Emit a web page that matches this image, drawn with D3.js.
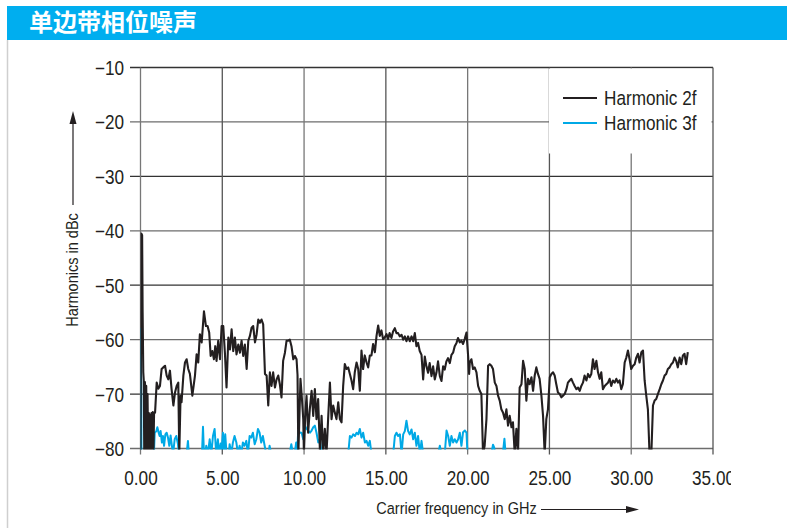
<!DOCTYPE html>
<html><head><meta charset="utf-8">
<script src="https://cdn.jsdelivr.net/npm/d3@7"></script>
<style>
html,body{margin:0;padding:0;background:#fff;}
svg{display:block;}
.tk{font-family:"Liberation Sans",Arial,sans-serif;fill:#231f20;}
</style></head>
<body>
<svg id="c" width="787" height="528"></svg>
<script>
const title = "单边带相位噪声";
const xLabel = "Carrier frequency in GHz";
const yLabel = "Harmonics in dBc";
const seriesNames = ["Harmonic 2f", "Harmonic 3f"];
const seriesColors = ["#231f20", "#00a9e6"];
const freqTicks = [0, 5, 10, 15, 20, 25, 30, 35];
const freqTickLabels = ["0.00","5.00","10.00","15.00","20.00","25.00","30.00","35.00"];
const dbTicks = [-10, -20, -30, -40, -50, -60, -70, -80];
const dbTickLabels = ["\u221210","\u221220","\u221230","\u221240","\u221250","\u221260","\u221270","\u221280"];

const harmonic2f = [
[0.00,-81],[0.03,-60],[0.05,-40.5],[0.10,-40.8],[0.13,-55],[0.17,-66],[0.20,-67.5],
[0.23,-81],[0.27,-67.8],[0.31,-81],[0.35,-68.5],[0.39,-81],[0.43,-70],[0.47,-81],[0.51,-73.5],
[0.55,-81],[0.59,-73.8],[0.63,-81],[0.67,-73.5],[0.71,-81],[0.75,-73.3],[0.79,-81],[0.83,-73.4],
[0.89,-73.4],[0.99,-67.9],[1.09,-69],[1.19,-68.5],[1.29,-65.4],[1.39,-65.1],[1.50,-64.8],[1.60,-66.6],
[1.70,-67.3],[1.80,-65.7],[1.90,-69.1],[2.01,-72.1],[2.11,-69.7],[2.21,-68.5],[2.31,-67.9],[2.37,-81],
[2.45,-70.3],[2.51,-71.5],[2.62,-66.6],[2.72,-64.2],[2.82,-63.6],[2.92,-65.4],[3.02,-66.3],[3.17,-70.3],
[3.33,-66.6],[3.43,-62.7],[3.53,-64.2],[3.63,-59.0],[3.74,-60.5],[3.88,-54.8],[4.00,-57.5],[4.10,-57.5],
[4.20,-58.7],[4.29,-63.0],[4.39,-62.1],[4.49,-63.6],[4.57,-61.2],[4.65,-63.9],[4.75,-60.2],[4.86,-63.6],
[4.96,-57.5],[5.06,-57.5],[5.16,-62.4],[5.26,-68.8],[5.37,-59.6],[5.47,-61.8],[5.57,-58.1],[5.67,-62.1],
[5.77,-59.6],[5.87,-62.7],[5.98,-60.9],[6.08,-62.4],[6.18,-60.2],[6.28,-63.0],[6.38,-60.9],[6.49,-65.4],
[6.59,-60.2],[6.69,-59.3],[6.79,-57.8],[6.89,-57.5],[7.00,-60.5],[7.10,-59.0],[7.20,-56.3],[7.30,-56.9],
[7.40,-56.3],[7.50,-57.2],[7.61,-66.3],[7.71,-66.6],[7.81,-72.1],[7.91,-66.0],[8.01,-68.5],[8.11,-66.0],
[8.22,-68.8],[8.32,-67.3],[8.42,-66.6],[8.52,-68.2],[8.62,-70.6],[8.72,-63.9],[8.83,-62.4],[8.93,-60.2],
[9.03,-60.2],[9.13,-60.0],[9.23,-61.2],[9.34,-63.6],[9.44,-63.0],[9.54,-63.6],[9.60,-66.5],[9.65,-81],
[9.70,-75.8],[9.78,-67.2],[9.87,-70.9],[9.95,-74.6],[9.99,-81],[10.07,-74.0],[10.15,-70.3],[10.25,-77.1],
[10.35,-72.8],[10.46,-69.4],[10.56,-74.0],[10.66,-69.1],[10.76,-74.6],[10.86,-70.9],[10.97,-80.5],[11.07,-74.0],
[11.17,-81],[11.27,-76.4],[11.37,-81],[11.47,-74.6],[11.58,-67.9],[11.68,-74.6],[11.78,-72.1],[11.88,-73.4],
[11.98,-74.6],[12.09,-71.5],[12.19,-74.6],[12.29,-75.2],[12.39,-68.5],[12.49,-64.5],[12.60,-65.4],[12.70,-65.1],
[12.80,-66.3],[12.90,-67.5],[13.00,-69.1],[13.10,-66.0],[13.21,-64.2],[13.31,-65.4],[13.41,-69.4],[13.51,-62.0],
[13.61,-65.4],[13.71,-62.9],[13.82,-64.2],[13.92,-65.1],[14.02,-62.9],[14.12,-62.9],[14.22,-60.8],[14.33,-62.3],
[14.43,-59.3],[14.53,-57.4],[14.63,-59.3],[14.73,-58.3],[14.83,-59.9],[14.93,-59.6],[15.04,-59.0],[15.14,-59.9],
[15.23,-58.8],[15.34,-59.7],[15.44,-58.5],[15.55,-57.9],[15.65,-58.8],[15.75,-58.8],[15.85,-59.4],[15.96,-59.1],
[16.06,-60.0],[16.16,-59.4],[16.26,-60.3],[16.36,-59.4],[16.46,-60.3],[16.57,-59.4],[16.67,-60.3],[16.77,-58.8],
[16.87,-61.2],[16.97,-60.6],[17.07,-62.1],[17.18,-62.8],[17.28,-67.3],[17.38,-63.1],[17.48,-64.9],[17.58,-66.1],
[17.68,-64.3],[17.79,-66.7],[17.89,-64.9],[17.99,-67.3],[18.09,-66.1],[18.19,-64.0],[18.30,-66.7],[18.40,-67.6],
[18.50,-64.9],[18.60,-65.5],[18.70,-64.0],[18.80,-63.4],[18.91,-64.3],[19.01,-62.8],[19.11,-62.4],[19.21,-61.2],
[19.32,-60.6],[19.41,-59.7],[19.52,-60.5],[19.62,-60.2],[19.72,-60.8],[19.82,-59.9],[19.93,-58.7],[20.03,-63.0],
[20.09,-66.3],[20.13,-64.2],[20.23,-63.6],[20.33,-65.4],[20.43,-65.1],[20.54,-66.0],[20.64,-68.5],[20.74,-69.4],
[20.84,-70.0],[20.94,-81],[21.04,-79.5],[21.15,-74.6],[21.25,-64.8],[21.35,-64.5],[21.45,-64.8],[21.55,-65.4],
[21.66,-67.9],[21.76,-68.5],[21.86,-70.3],[21.96,-71.2],[22.06,-72.8],[22.16,-73.4],[22.27,-74.6],[22.37,-72.8],
[22.47,-75.8],[22.57,-74.0],[22.68,-76.1],[22.77,-75.2],[22.88,-81],[22.98,-76.4],[23.08,-81],[23.18,-68.8],
[23.29,-68.2],[23.39,-63.9],[23.49,-65.4],[23.59,-71.2],[23.69,-67.2],[23.79,-68.2],[23.90,-66.9],[24.00,-69.4],
[24.10,-66.6],[24.20,-65.1],[24.30,-66.3],[24.40,-67.2],[24.51,-70.3],[24.61,-74.0],[24.71,-81],[24.81,-74.6],
[24.91,-72.8],[25.02,-66.9],[25.12,-66.3],[25.22,-66.0],[25.32,-66.6],[25.42,-68.2],[25.52,-69.7],[25.63,-70.0],
[25.73,-70.6],[25.83,-70.3],[25.93,-70.0],[26.04,-69.1],[26.13,-67.9],[26.24,-67.5],[26.34,-67.2],[26.44,-67.9],
[26.54,-68.5],[26.65,-69.1],[26.75,-68.8],[26.85,-69.4],[26.95,-68.5],[27.05,-67.9],[27.15,-66.6],[27.26,-67.5],
[27.36,-66.3],[27.46,-66.9],[27.56,-66.3],[27.66,-63.6],[27.76,-65.4],[27.87,-63.9],[27.97,-66.0],[28.07,-67.2],
[28.17,-66.0],[28.27,-69.1],[28.38,-68.5],[28.48,-68.2],[28.58,-67.9],[28.68,-67.2],[28.78,-68.5],[28.88,-67.5],
[28.99,-67.9],[29.09,-67.2],[29.19,-67.9],[29.29,-67.5],[29.39,-69.1],[29.49,-68.2],[29.60,-64.2],[29.70,-63.3],
[29.80,-62.0],[29.90,-63.6],[30.00,-65.4],[30.11,-64.8],[30.21,-64.5],[30.31,-63.3],[30.41,-62.6],[30.51,-64.2],
[30.62,-62.3],[30.72,-62.0],[30.82,-67.5],[30.92,-70.3],[31.02,-72.8],[31.12,-81],[31.23,-81],[31.33,-72.1],
[31.43,-71.2],[31.53,-70.9],[31.63,-70.0],[31.74,-69.1],[31.84,-68.2],[31.94,-67.5],[32.04,-66.6],[32.14,-66.3],
[32.24,-65.4],[32.35,-65.1],[32.45,-64.5],[32.55,-64.2],[32.65,-63.3],[32.75,-63.9],[32.85,-65.1],[32.96,-63.3],
[33.06,-64.5],[33.16,-62.9],[33.26,-62.6],[33.36,-64.5],[33.46,-62.3]
];

const harmonic3f = [
[0.00,-81],[0.03,-58],[0.06,-81],[0.82,-81],[0.87,-77.1],[0.97,-76.8],[1.03,-76.1],[1.11,-77.1],[1.17,-77.7],
[1.23,-76.8],[1.31,-78.9],[1.37,-77.7],[1.44,-79.5],[1.52,-77.4],[1.60,-77.1],[1.68,-78.0],[1.76,-79.5],
[1.84,-77.6],[1.92,-79.5],[1.99,-81],[2.09,-78.3],[2.19,-77.7],[2.29,-79.2],[2.35,-81],[2.82,-81],[2.90,-78.6],
[2.96,-81],[3.76,-81],[3.82,-76.0],[3.88,-81],[3.96,-81],[4.02,-79.5],[4.12,-81],[4.23,-78.3],[4.33,-81],
[4.43,-77.7],[4.53,-76.4],[4.63,-81],[4.73,-78.3],[4.80,-81],[4.90,-79.1],[4.94,-81],[5.04,-77.1],[5.10,-81],
[5.18,-77.4],[5.26,-81],[5.40,-81],[5.45,-79.2],[5.55,-81],[5.65,-78.9],[5.75,-77.7],[5.86,-78.9],[5.96,-81],
[6.06,-79.5],[6.16,-81],[6.26,-78.9],[6.36,-79.5],[6.47,-78.6],[6.57,-81],[6.67,-77.7],[6.77,-78.0],[6.87,-77.1],
[6.98,-79.2],[7.08,-78.3],[7.18,-76.4],[7.28,-77.1],[7.38,-78.9],[7.48,-77.7],[7.59,-79.5],[7.69,-81],
[7.84,-81],[7.89,-79.5],[7.99,-81],[9.11,-81],[9.22,-79.2],[9.32,-81],[9.42,-81],[9.52,-78.9],[9.58,-81],
[9.64,-76.7],[9.75,-77.1],[9.85,-77.1],[9.95,-78.3],[10.05,-75.8],[10.15,-76.4],[10.25,-76.7],[10.36,-77.1],
[10.46,-76.7],[10.56,-76.1],[10.66,-75.8],[10.76,-77.1],[10.87,-78.9],[10.97,-78.3],[11.07,-81],
[12.70,-81],[12.80,-77.7],[12.90,-78.0],[13.00,-77.4],[13.11,-77.7],[13.21,-77.1],[13.31,-77.4],[13.41,-76.4],
[13.51,-78.0],[13.61,-77.1],[13.72,-78.9],[13.82,-78.6],[13.92,-79.5],[14.02,-78.6],[14.12,-81],
[15.45,-81],[15.55,-77.7],[15.65,-77.1],[15.75,-77.7],[15.86,-77.4],[15.96,-81],[16.06,-77.4],[16.16,-76.8],
[16.26,-74.9],[16.36,-76.8],[16.46,-77.4],[16.57,-76.5],[16.67,-78.3],[16.77,-77.1],[16.87,-79.5],[16.97,-77.7],
[17.08,-81],[17.18,-78.6],[17.28,-81],[18.20,-81],[18.30,-79.5],[18.40,-81],[18.60,-81],[18.71,-76.7],
[18.81,-77.7],[18.91,-79.5],[19.01,-77.7],[19.11,-78.9],[19.21,-78.3],[19.32,-78.9],[19.42,-78.3],[19.52,-77.1],
[19.62,-79.5],[19.72,-77.0],[19.83,-76.7],[19.93,-77.1],[19.99,-81],[21.45,-81],[21.55,-79.3],[21.62,-79.8],
[21.68,-81],[22.15,-81],[22.25,-78.2],[22.32,-81],[22.60,-81]
];

const SX = 0.88; // condensed look
const svg = d3.select("#c");
const x = d3.scaleLinear().domain([0, 35]).range([140.5, 713]);
const y = d3.scaleLinear().domain([-80, -10]).range([448.5, 67.5]);

// title bar
svg.append("rect").attr("x", 7).attr("y", 6).attr("width", 780).attr("height", 34).attr("fill", "#00aeef");
svg.append("text").attr("x", 29).attr("y", 30.5).text(title)
  .attr("fill", "#fff").attr("font-family", "'Noto Sans CJK SC', sans-serif")
  .attr("font-weight", "bold").attr("font-size", 24);
svg.append("line").attr("x1", 7.5).attr("x2", 7.5).attr("y1", 40).attr("y2", 528)
  .attr("stroke", "#cfcfcf").attr("stroke-width", 1.5);

// grid
const grid = svg.append("g");
grid.selectAll("line.h").data(dbTicks).join("line")
  .attr("x1", 130).attr("x2", 713).attr("y1", d => y(d)).attr("y2", d => y(d))
  .attr("stroke", (d, i) => i % 2 ? "#6d6d6d" : "#333").attr("stroke-width", 1.3);
grid.selectAll("line.v").data(freqTicks).join("line")
  .attr("x1", d => x(d)).attr("x2", d => x(d)).attr("y1", y(-10)).attr("y2", y(-80) + 6)
  .attr("stroke", (d, i) => i % 2 ? "#555" : "#777").attr("stroke-width", 1.3);

// legend box (covers grid)
svg.append("rect").attr("x", 549).attr("y", y(-10) + 1).attr("width", 162.5).attr("height", 85).attr("fill", "#fff");

// y axis tick labels
const yAxis = d3.axisLeft(y).tickValues(dbTicks).tickFormat((d, i) => dbTickLabels[i]).tickSize(0);
const ga = svg.append("g").attr("transform", `translate(${x(0)},0)`).call(yAxis);
ga.select(".domain").remove();
ga.selectAll("text").attr("class", "tk").attr("font-size", 19.5).attr("font-family", null).attr("fill", null)
  .attr("x", 0).attr("dy", "0.36em").attr("transform", `translate(-16.5,0) scale(${SX},1)`);

// x axis tick labels (clipped at right like the original)
const xAxis = d3.axisBottom(x).tickValues(freqTicks).tickFormat((d, i) => freqTickLabels[i]).tickSize(0);
const gx = svg.append("g").attr("transform", `translate(0,${y(-80)})`);
gx.append("clipPath").attr("id", "xtclip").append("rect").attr("x", 0).attr("y", -10).attr("width", 731).attr("height", 70);
const gxi = gx.append("g").attr("clip-path", "url(#xtclip)").call(xAxis);
gxi.select(".domain").remove();
gxi.selectAll("text").attr("class", "tk").attr("font-size", 19.5).attr("font-family", null).attr("fill", null)
  .attr("y", 0).attr("dy", 0).attr("transform", `translate(0,36.5) scale(${SX},1)`);

// data lines
svg.append("clipPath").attr("id", "pc").append("rect")
  .attr("x", x(0)).attr("y", y(-10)).attr("width", x(35) - x(0)).attr("height", y(-80) - y(-10) + 1);
const line = d3.line().x(d => x(d[0])).y(d => y(d[1]));
const plot = svg.append("g").attr("clip-path", "url(#pc)");
plot.append("path").datum(harmonic3f).attr("d", line).attr("fill", "none")
  .attr("stroke", seriesColors[1]).attr("stroke-width", 2).attr("stroke-linejoin", "round");
plot.append("path").datum(harmonic2f).attr("d", line).attr("fill", "none")
  .attr("stroke", seriesColors[0]).attr("stroke-width", 2.1).attr("stroke-linejoin", "round");

// legend
seriesNames.forEach((n, i) => {
  const ly = 98 + i * 25;
  svg.append("line").attr("x1", 563).attr("x2", 597).attr("y1", ly).attr("y2", ly)
    .attr("stroke", seriesColors[i]).attr("stroke-width", 2);
  svg.append("text").attr("class", "tk").attr("font-size", 19.5)
    .attr("transform", `translate(604,${ly + 7}) scale(${SX},1)`).text(n);
});

// axis titles
svg.append("text").attr("class", "tk").attr("font-size", 16.5)
  .attr("transform", `translate(78,270) rotate(-90) scale(${SX},1)`).attr("text-anchor", "middle").text(yLabel);
svg.append("line").attr("x1", 73).attr("x2", 73).attr("y1", 205).attr("y2", 122)
  .attr("stroke", "#231f20").attr("stroke-width", 1.2);
svg.append("path").attr("d", "M73,111 L69.5,124 L76.5,124 Z").attr("fill", "#231f20");

svg.append("text").attr("class", "tk").attr("font-size", 16.5)
  .attr("transform", `translate(456.5,514) scale(${SX},1)`).attr("text-anchor", "middle").text(xLabel);
svg.append("line").attr("x1", 541).attr("x2", 628).attr("y1", 509.5).attr("y2", 509.5)
  .attr("stroke", "#231f20").attr("stroke-width", 1.2);
svg.append("path").attr("d", "M639,509.5 L626,506 L626,513 Z").attr("fill", "#231f20");
</script>
</body></html>
